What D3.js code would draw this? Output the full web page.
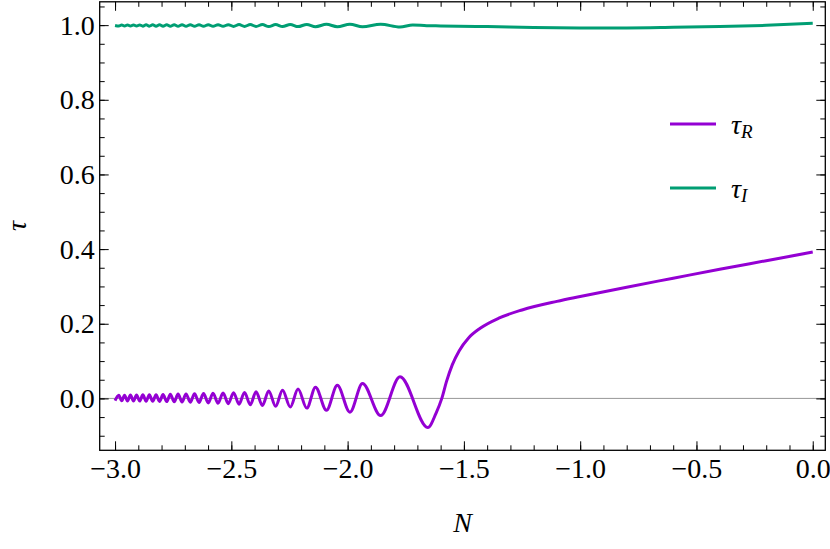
<!DOCTYPE html>
<html><head><meta charset="utf-8">
<script src="https://cdn.jsdelivr.net/npm/d3@7"></script>
<style>
html,body{margin:0;padding:0;background:#fff;}
</style>
</head><body>
<svg id="c" width="830" height="549"></svg>
<script>
const nR = [-3.0,-2.9837,-2.9714,-2.9592,-2.9465,-2.9338,-2.9207,-2.9076,-2.8940,-2.8805,
  -2.8665,-2.8525,-2.8381,-2.8237,-2.8087,-2.7936,-2.7779,-2.7623,-2.7457,-2.7291,
  -2.7120,-2.6948,-2.6765,-2.6582,-2.6389,-2.6195,-2.5991,-2.5787,-2.5572,-2.5357,
  -2.5131,-2.4905,-2.4669,-2.4433,-2.4185,-2.3938,-2.3665,-2.3392,-2.3095,-2.2799,
  -2.2466,-2.2132,-2.1756,-2.1380,-2.0911,-2.0443,-1.9901,-1.9360,-1.858,-1.7747,
  -1.655,-1.62,-1.595,-1.575,-1.55,-1.52,-1.48,-1.43,-1.35,-1.25,-1.1,-1.0,-0.8,-0.6,-0.4,-0.2,0.0];
const tauR = [-0.006,0.0085,-0.0065,0.0087,-0.0067,0.009,-0.007,0.0092,-0.0072,0.0095,
  -0.0075,0.0098,-0.0078,0.010,-0.008,0.0105,-0.0085,0.011,-0.009,0.0115,
  -0.0095,0.012,-0.010,0.0125,-0.011,0.013,-0.012,0.014,-0.013,0.0145,
  -0.014,0.0155,-0.0155,0.016,-0.017,0.018,-0.019,0.020,-0.021,0.022,
  -0.023,0.025,-0.026,0.030,-0.032,0.035,-0.037,0.040,-0.046,0.058,
  -0.078,-0.04,0.0,0.045,0.09,0.128,0.162,0.188,0.215,0.237,0.260,0.273,0.298,0.322,0.346,0.369,0.392];
// tau_I
const nI = [-3.0,-2.9837,-2.9714,-2.9592,-2.9465,-2.9338,-2.9207,-2.9076,-2.8940,-2.8805,
  -2.8665,-2.8525,-2.8381,-2.8237,-2.8087,-2.7936,-2.7779,-2.7623,-2.7457,-2.7291,
  -2.7120,-2.6948,-2.6765,-2.6582,-2.6389,-2.6195,-2.5991,-2.5787,-2.5572,-2.5357,
  -2.5131,-2.4905,-2.4669,-2.4433,-2.4185,-2.3938,-2.3665,-2.3392,-2.3095,-2.2799,
  -2.2466,-2.2132,-2.1756,-2.1380,-2.0911,-2.0443,-1.9901,-1.9360,-1.858,-1.7747,
  -1.72,-1.66,-1.6,-1.4,-1.2,-1.0,-0.8,-0.6,-0.4,-0.2,0.0];
const tauI = [0.999,0.9975,1.0005,0.9975,1.0005,0.9974,1.0006,0.9974,1.0006,0.9973,
  1.0007,0.9973,1.0007,0.9972,1.0008,0.9972,1.0008,0.9971,1.0009,0.9971,
  1.0009,0.997,1.001,0.997,1.001,0.9969,1.0011,0.9968,1.0012,0.9967,
  1.0013,0.9966,1.0014,0.9965,1.0015,0.9964,1.0016,0.9963,1.0017,0.9962,
  1.0018,0.996,1.002,0.9958,1.0022,0.9956,1.0024,0.9955,1.0025,0.9948,
  1.0003,0.9985,0.998,0.996,0.9935,0.9925,0.9925,0.994,0.996,0.9995,1.005];

const xMajor = [-3.0,-2.5,-2.0,-1.5,-1.0,-0.5,0.0];
const xTickLabels = ["\u22123.0","\u22122.5","\u22122.0","\u22121.5","\u22121.0","\u22120.5","0.0"];
const xMinor = d3.range(-30,1).map(d=>d/10);
const yMajor = [0.0,0.2,0.4,0.6,0.8,1.0];
const yTickLabels = ["0.0","0.2","0.4","0.6","0.8","1.0"];
const yMinor = d3.range(-2,22).map(d=>d*0.05);
const xDomain = [-3.066,0.054];
const yDomain = [-0.139,1.0625];
const seriesNames = ["R","I"];
const colors = ["#9400d3","#009e73"];

const FONT = "'Liberation Serif', Tinos, 'Times New Roman', Times, 'Nimbus Roman', FreeSerif, serif";
const svg = d3.select("#c");
const L=99.7, R=825.3, T=1.8, B=450.3;
const x = d3.scaleLinear().domain(xDomain).range([L,R]);
const y = d3.scaleLinear().domain(yDomain).range([B,T]);

// zero line
svg.append("line").attr("x1",L).attr("x2",R).attr("y1",y(0)).attr("y2",y(0))
  .attr("stroke","#8c8c8c").attr("stroke-width",0.9);

svg.append("clipPath").attr("id","clp").append("rect")
  .attr("x",L).attr("y",T).attr("width",R-L).attr("height",B-T);

const line = d3.line().x(d=>x(d[0])).y(d=>y(d[1])).curve(d3.curveMonotoneX);
const g = svg.append("g").attr("clip-path","url(#clp)");
g.append("path").datum(d3.zip(nR,tauR)).attr("d",line)
  .attr("fill","none").attr("stroke",colors[0]).attr("stroke-width",3).attr("stroke-linejoin","round");
g.append("path").datum(d3.zip(nI,tauI)).attr("d",line)
  .attr("fill","none").attr("stroke",colors[1]).attr("stroke-width",3).attr("stroke-linejoin","round");

// axes (ticks inward on all sides)
const MAJ=9, MIN=5, FS=28;
function styleAxis(sel){
  sel.attr("font-family",FONT).attr("font-size",FS);
  sel.select(".domain").remove();
  sel.selectAll(".tick line").attr("stroke","#000").attr("stroke-width",1);
  sel.selectAll("text").attr("fill","#000").style("font-family",FONT).style("font-size",FS+"px");
}
svg.append("g").attr("transform",`translate(0,${B})`)
  .call(d3.axisBottom(x).tickValues(xMinor).tickSize(-MIN).tickFormat("")).call(styleAxis);
svg.append("g").attr("transform",`translate(0,${B})`)
  .call(d3.axisBottom(x).tickValues(xMajor).tickSize(-MAJ).tickPadding(8)
  .tickFormat((d,i)=>xTickLabels[i])).call(styleAxis);
svg.append("g").attr("transform",`translate(0,${T})`)
  .call(d3.axisTop(x).tickValues(xMinor).tickSize(-MIN).tickFormat("")).call(styleAxis);
svg.append("g").attr("transform",`translate(0,${T})`)
  .call(d3.axisTop(x).tickValues(xMajor).tickSize(-MAJ).tickFormat("")).call(styleAxis);
svg.append("g").attr("transform",`translate(${L},0)`)
  .call(d3.axisLeft(y).tickValues(yMinor).tickSize(-MIN).tickFormat("")).call(styleAxis);
svg.append("g").attr("transform",`translate(${L},0)`)
  .call(d3.axisLeft(y).tickValues(yMajor).tickSize(-MAJ).tickPadding(5)
  .tickFormat((d,i)=>yTickLabels[i])).call(styleAxis);
svg.append("g").attr("transform",`translate(${R},0)`)
  .call(d3.axisRight(y).tickValues(yMinor).tickSize(-MIN).tickFormat("")).call(styleAxis);
svg.append("g").attr("transform",`translate(${R},0)`)
  .call(d3.axisRight(y).tickValues(yMajor).tickSize(-MAJ).tickFormat("")).call(styleAxis);

svg.append("rect").attr("x",L).attr("y",T).attr("width",R-L).attr("height",B-T)
  .attr("fill","none").attr("stroke","#000").attr("stroke-width",1.3);

// axis labels
svg.append("text").attr("x",(L+R)/2).attr("y",532).attr("text-anchor","middle")
  .style("font-family",FONT).style("font-size","28px").style("font-style","italic").text("N");
svg.append("text").attr("transform",`translate(26,${(T+B)/2}) rotate(-90)`).attr("text-anchor","middle")
  .style("font-family",FONT).style("font-size","28px").style("font-style","italic").text("\u03c4");

// legend
const legY = [124,188];
seriesNames.forEach((s,i)=>{
  svg.append("line").attr("x1",670).attr("x2",716).attr("y1",legY[i]).attr("y2",legY[i])
    .attr("stroke",colors[i]).attr("stroke-width",3);
  const t = svg.append("text").attr("x",731).attr("y",legY[i]+9.5)
    .style("font-family",FONT).style("font-style","italic");
  t.append("tspan").style("font-size","28px").text("\u03c4");
  t.append("tspan").attr("dy",4).style("font-size","19px").text(s);
});
</script>
</body></html>
